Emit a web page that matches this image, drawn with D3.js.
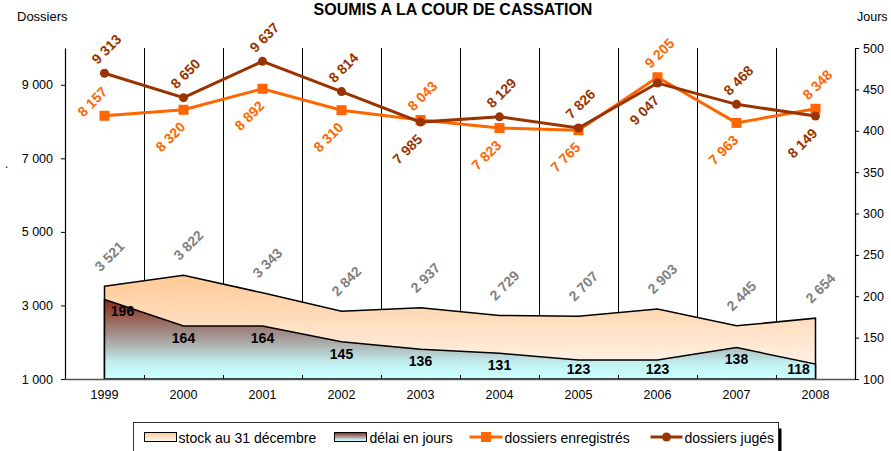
<!DOCTYPE html>
<html>
<head>
<meta charset="utf-8">
<script src="https://cdn.jsdelivr.net/npm/d3@7"></script>
<style>
body { margin: 0; background: #fff; }
svg { display: block; font-family: Arial, "Liberation Sans", sans-serif; }
</style>
</head>
<body>
<div id="graphic"></div>
<script>
// data
var years = ["1999", "2000", "2001", "2002", "2003", "2004", "2005", "2006", "2007", "2008"];
var stock = [3521, 3822, 3343, 2842, 2937, 2729, 2707, 2903, 2445, 2654];
var delai = [196, 164, 164, 145, 136, 131, 123, 123, 138, 118];
var enregistres = [8157, 8320, 8892, 8310, 8043, 7823, 7765, 9205, 7963, 8348];
var juges = [9313, 8650, 9637, 8814, 7985, 8129, 7826, 9047, 8468, 8149];
var leftTicks = [1000, 3000, 5000, 7000, 9000];
var rightTicks = [100, 150, 200, 250, 300, 350, 400, 450, 500];

// where each data label sits relative to its point
var posEnr = ["l", "b", "b", "b", "a", "b", "b", "a", "b", "a"];
var posJug = ["a", "a", "a", "a", "b", "a", "a", "b", "a", "b"];
var posStock = ["s", "s", "s", "s", "s", "s", "s", "s", "s", "s"];

var W = 891, H = 451;
var margin = { top: 48, right: 36, bottom: 72, left: 65 };
var plotW = W - margin.left - margin.right;
var plotH = H - margin.top - margin.bottom;

var orange = "#ff6600", brown = "#993300", grey = "#808080";
var font = "Arial, 'Liberation Sans', sans-serif";

var locale = d3.formatLocale({ decimal: ",", thousands: " ", grouping: [3], currency: ["", ""] });
var fmt = locale.format(",");

var svg = d3.select("#graphic").append("svg").attr("width", W).attr("height", H);

var defs = svg.append("defs");
var gStock = defs.append("linearGradient").attr("id", "gStock").attr("x1", 0).attr("y1", 0).attr("x2", 0).attr("y2", 1);
gStock.append("stop").attr("offset", "0%").attr("stop-color", "#ffc995");
gStock.append("stop").attr("offset", "100%").attr("stop-color", "#fff8f2");
var gDelai = defs.append("linearGradient").attr("id", "gDelai").attr("x1", 0).attr("y1", 0).attr("x2", 0).attr("y2", 1);
gDelai.append("stop").attr("offset", "0%").attr("stop-color", "#8c2a12");
gDelai.append("stop").attr("offset", "45%").attr("stop-color", "#a39390");
gDelai.append("stop").attr("offset", "80%").attr("stop-color", "#c2f0f0");
gDelai.append("stop").attr("offset", "100%").attr("stop-color", "#ccffff");

// title and axis titles
svg.append("text").attr("x", 453).attr("y", 15).attr("text-anchor", "middle")
	.style("font-size", "16px").style("font-weight", "bold").text("SOUMIS A LA COUR DE CASSATION");
svg.append("text").attr("x", 17).attr("y", 21).style("font-size", "13px").text("Dossiers");
svg.append("text").attr("x", 857).attr("y", 21).style("font-size", "12.5px").text("Jours");
svg.append("text").attr("x", 5).attr("y", 168).style("font-size", "12px").text(".");

var g = svg.append("g").attr("transform", "translate(" + margin.left + "," + margin.top + ")");

var x = d3.scaleBand().domain(years).range([0, plotW]).padding(0);
var cx = function(i) { return x(years[i]) + x.bandwidth() / 2; };
var bx = function(d) { return Math.round(x(d) + x.bandwidth()) + 0.5; };
var yL = d3.scaleLinear().domain([1000, 10000]).range([plotH, 0]);
var yR = d3.scaleLinear().domain([100, 500]).range([plotH, 0]);

// vertical gridlines on category boundaries
g.append("g").selectAll("line").data(years.slice(0, -1)).enter().append("line")
	.attr("x1", bx).attr("x2", bx)
	.attr("y1", 0).attr("y2", plotH)
	.attr("stroke", "#000").attr("stroke-width", 1);

// areas
var areaStock = d3.area()
	.x(function(d, i) { return cx(i); })
	.y0(yL(1000))
	.y1(function(d) { return yL(d); });
g.append("path").datum(stock).attr("d", areaStock)
	.attr("fill", "url(#gStock)").attr("stroke", "#000").attr("stroke-width", 1.5);

var areaDelai = d3.area()
	.x(function(d, i) { return cx(i); })
	.y0(yR(100))
	.y1(function(d) { return yR(d); });
g.append("path").datum(delai).attr("d", areaDelai)
	.attr("fill", "url(#gDelai)").attr("stroke", "#000").attr("stroke-width", 1.5);

// x axis: inner ticks on boundaries + labels at centres
g.append("g").selectAll("line").data(years.slice(0, -1)).enter().append("line")
	.attr("x1", bx).attr("x2", bx)
	.attr("y1", plotH - 4).attr("y2", plotH)
	.attr("stroke", "#000");

var xAxis = g.append("g").attr("transform", "translate(0," + plotH + ")")
	.call(d3.axisBottom(x).tickSize(0).tickPadding(11));
xAxis.select(".domain").attr("stroke", "#555").attr("stroke-width", 1.5);
xAxis.selectAll("text").style("font-size", "12.5px").style("font-family", font).attr("fill", "#000");

var yAxisL = g.append("g").call(d3.axisLeft(yL).tickValues(leftTicks).tickFormat(fmt).tickSize(4).tickSizeOuter(0).tickPadding(8));
yAxisL.select(".domain").attr("stroke", "#000").attr("stroke-width", 1.2);
yAxisL.selectAll("text").style("font-size", "12.5px").style("font-family", font);

var yAxisR = g.append("g").attr("transform", "translate(" + plotW + ",0)")
	.call(d3.axisRight(yR).tickValues(rightTicks).tickSize(4).tickSizeOuter(0).tickPadding(4));
yAxisR.select(".domain").attr("stroke", "#000").attr("stroke-width", 1.2);
yAxisR.selectAll("text").style("font-size", "12.5px").style("font-family", font);

// lines
var line = d3.line().x(function(d, i) { return cx(i); }).y(function(d) { return yL(d); });

g.append("path").datum(enregistres).attr("d", line)
	.attr("fill", "none").attr("stroke", orange).attr("stroke-width", 3);
g.append("g").selectAll("rect").data(enregistres).enter().append("rect")
	.attr("x", function(d, i) { return cx(i) - 5; })
	.attr("y", function(d) { return yL(d) - 5; })
	.attr("width", 10).attr("height", 10).attr("fill", orange);

g.append("path").datum(juges).attr("d", line)
	.attr("fill", "none").attr("stroke", brown).attr("stroke-width", 3);
g.append("g").selectAll("circle").data(juges).enter().append("circle")
	.attr("cx", function(d, i) { return cx(i); })
	.attr("cy", function(d) { return yL(d); })
	.attr("r", 4.5).attr("fill", brown);

// data labels
var offsets = { a: [2, -24], b: [-13, 27], l: [-12, -14], s: [5, -30] };

function rotLabels(data, pos, yScale, colour, cls) {
	g.append("g").selectAll("text." + cls).data(data).enter().append("text")
		.attr("class", cls)
		.attr("transform", function(d, i) {
			var o = offsets[pos[i]];
			return "translate(" + (cx(i) + o[0]) + "," + (yScale(d) + o[1]) + ") rotate(-45)";
		})
		.attr("text-anchor", "middle").attr("dy", "0.35em")
		.style("font-size", "14px").style("font-weight", "bold").attr("fill", colour)
		.text(function(d) { return fmt(d); });
}

rotLabels(stock, posStock, yL, grey, "lab-stock");
rotLabels(enregistres, posEnr, yL, orange, "lab-enr");
rotLabels(juges, posJug, yL, brown, "lab-jug");

var xMin = cx(0) + 18, xMax = cx(years.length - 1) - 17;
g.append("g").selectAll("text").data(delai).enter().append("text")
	.attr("x", function(d, i) { return Math.max(xMin, Math.min(xMax, cx(i))); })
	.attr("y", function(d) { return Math.min(yR(d) + 12, plotH - 10); })
	.attr("dy", "0.35em").attr("text-anchor", "middle")
	.style("font-size", "14px").style("font-weight", "bold").attr("fill", "#000")
	.text(function(d) { return d; });

// legend
var lg = svg.append("g").attr("transform", "translate(133.5,422.5)");
lg.append("rect").attr("x", 645).attr("y", 6).attr("width", 3).attr("height", 40).attr("fill", "#000");
lg.append("rect").attr("x", 0).attr("y", 0).attr("width", 645).attr("height", 40)
	.attr("fill", "#fff").attr("stroke", "#333").attr("stroke-width", 1);

var legendFont = "14px";
lg.append("rect").attr("x", 11).attr("y", 10).attr("width", 32).attr("height", 9)
	.attr("fill", "url(#gStock)").attr("stroke", "#000");
lg.append("text").attr("x", 45).attr("y", 20).style("font-size", legendFont).text("stock au 31 décembre");

lg.append("rect").attr("x", 201).attr("y", 10).attr("width", 32).attr("height", 9)
	.attr("fill", "url(#gDelai)").attr("stroke", "#000");
lg.append("text").attr("x", 236).attr("y", 20).style("font-size", legendFont).text("délai en jours");

lg.append("line").attr("x1", 336).attr("x2", 369).attr("y1", 14.5).attr("y2", 14.5)
	.attr("stroke", orange).attr("stroke-width", 3);
lg.append("rect").attr("x", 347.5).attr("y", 9.5).attr("width", 10).attr("height", 10).attr("fill", orange);
lg.append("text").attr("x", 371).attr("y", 20).style("font-size", legendFont).text("dossiers enregistrés");

lg.append("line").attr("x1", 517).attr("x2", 549).attr("y1", 14.5).attr("y2", 14.5)
	.attr("stroke", brown).attr("stroke-width", 3);
lg.append("circle").attr("cx", 533).attr("cy", 14.5).attr("r", 4.5).attr("fill", brown);
lg.append("text").attr("x", 551).attr("y", 20).style("font-size", legendFont).text("dossiers jugés");
</script>
</body>
</html>
